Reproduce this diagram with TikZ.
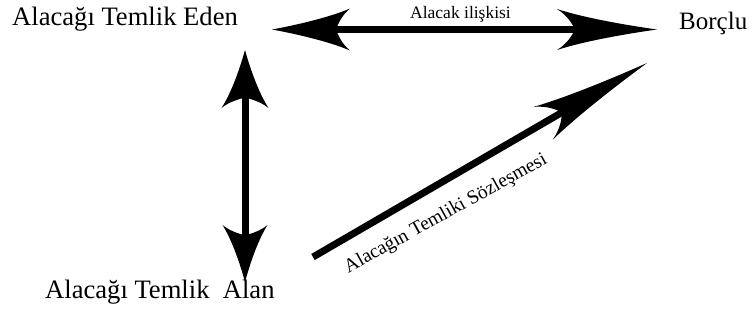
\documentclass[tikz,border=0pt]{standalone}
\usepackage{fontspec}
\setmainfont{Liberation Serif}
\usetikzlibrary{arrows.meta}

\pgfdeclarearrow{
  name = Swoop,
  parameters = {\the\pgfarrowlength,\the\pgfarrowwidth},
  setup code = {
    \pgfarrowssettipend{0pt}
    \pgfarrowssetlineend{-.7\pgfarrowlength}
    \pgfarrowssetbackend{-\pgfarrowlength}
    \pgfarrowshullpoint{0pt}{0pt}
    \pgfarrowsupperhullpoint{-\pgfarrowlength}{.5\pgfarrowwidth}
    \pgfarrowssavethe\pgfarrowlength
    \pgfarrowssavethe\pgfarrowwidth
  },
  drawing code = {
    \pgfpathmoveto{\pgfqpoint{0pt}{0pt}}
    \pgfpathcurveto{\pgfqpoint{-.35\pgfarrowlength}{.12\pgfarrowwidth}}{\pgfqpoint{-.75\pgfarrowlength}{.3\pgfarrowwidth}}{\pgfqpoint{-\pgfarrowlength}{.5\pgfarrowwidth}}
    \pgfpathcurveto{\pgfqpoint{-.9\pgfarrowlength}{.35\pgfarrowwidth}}{\pgfqpoint{-.85\pgfarrowlength}{.15\pgfarrowwidth}}{\pgfqpoint{-.82\pgfarrowlength}{0pt}}
    \pgfpathcurveto{\pgfqpoint{-.85\pgfarrowlength}{-.15\pgfarrowwidth}}{\pgfqpoint{-.9\pgfarrowlength}{-.35\pgfarrowwidth}}{\pgfqpoint{-\pgfarrowlength}{-.5\pgfarrowwidth}}
    \pgfpathcurveto{\pgfqpoint{-.75\pgfarrowlength}{-.3\pgfarrowwidth}}{\pgfqpoint{-.35\pgfarrowlength}{-.12\pgfarrowwidth}}{\pgfqpoint{0pt}{0pt}}
    \pgfpathclose
    \pgfusepathqfill
  },
  defaults = {length = 60pt, width = 40pt}
}

\tikzset{
  biglabel/.style={inner sep=0pt, anchor=base west, font=\fontsize{26.6}{30}\selectfont},
  smalllabel/.style={inner sep=0pt, anchor=base west, font=\fontsize{17.5}{20}\selectfont},
  shaft/.style={line width=7pt, line cap=butt}
}

\begin{document}
\begin{tikzpicture}[x=1pt, y=-1pt]
\useasboundingbox (0,0) rectangle (752,325);

% labels
\node[biglabel] (eden) at (12,25) {Alacağı Temlik Eden};
\node[biglabel, font=\fontsize{25}{30}\selectfont] (borclu) at (679,29) {Borçlu};
\node[biglabel] (alan) at (45,298) {Alacağı Temlik\ \ Alan};
\node[smalllabel] (iliski) at (410,18) {Alacak ilişkisi};
\node[inner sep=0pt, rotate=29, font=\fontsize{19.5}{22}\selectfont] (sozl) at (446,214) {Alacağın Temliki Sözleşmesi};

% arrow end points
\coordinate (hL) at (272,29.5);
\coordinate (hR) at (657,29.5);
\coordinate (vT) at (245,50);
\coordinate (vB) at (245,282);
\coordinate (dS) at (313,257);
\coordinate (dE) at (647,63);

% arrows
\draw[shaft, {Swoop[length=78pt,width=42pt]}-{Swoop[length=100pt,width=41pt]}] (hL) -- (hR);
\draw[shaft, {Swoop[length=58pt,width=47pt]}-{Swoop[length=57pt,width=45pt]}] (vT) -- (vB);
\draw[shaft, -{Swoop[length=120pt,width=38pt]}] (dS) -- (dE);
\end{tikzpicture}
\end{document}
